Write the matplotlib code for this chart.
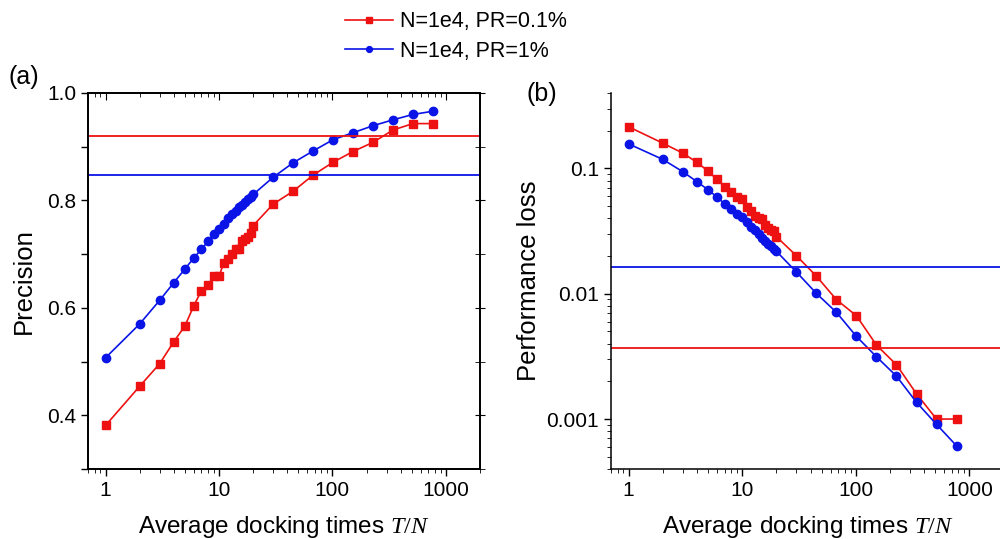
import matplotlib
matplotlib.use("Agg")
import matplotlib.pyplot as plt
from matplotlib.ticker import LogLocator, FixedLocator, FuncFormatter, NullFormatter

plt.rcParams['font.family'] = ['Liberation Sans', 'DejaVu Sans']
plt.rcParams['mathtext.fontset'] = 'custom'
plt.rcParams['mathtext.it'] = 'Liberation Serif:italic'
plt.rcParams['mathtext.rm'] = 'Liberation Serif'

# docking times T/N
x = [1, 2, 3, 4, 5, 6, 7, 8, 9, 10, 11, 12, 13, 14, 15, 16, 17, 18, 19, 20,
     30, 45, 67.5, 101.25, 151.9, 227.8, 341.7, 512.6, 768.9]

# (a) precision
prec_01 = [0.381, 0.454, 0.496, 0.537, 0.566, 0.604, 0.632, 0.642, 0.659, 0.659,
           0.683, 0.691, 0.701, 0.709, 0.710, 0.725, 0.728, 0.731, 0.740, 0.753,
           0.793, 0.817, 0.847, 0.871, 0.891, 0.908, 0.931, 0.943, 0.943]
prec_1 = [0.507, 0.570, 0.614, 0.647, 0.672, 0.693, 0.709, 0.724, 0.737, 0.747,
          0.756, 0.767, 0.774, 0.781, 0.787, 0.792, 0.797, 0.802, 0.807, 0.811,
          0.843, 0.870, 0.892, 0.913, 0.926, 0.939, 0.950, 0.960, 0.966]
prec_ref_01 = 0.920
prec_ref_1 = 0.848

# (b) performance loss
loss_01 = [0.215, 0.159, 0.1325, 0.1117, 0.0952, 0.0817, 0.0714, 0.0643, 0.0594, 0.0566,
           0.0489, 0.0454, 0.0416, 0.0400, 0.0397, 0.0351, 0.0334, 0.0322, 0.0316, 0.0285,
           0.0201, 0.0138, 0.00896, 0.00667, 0.00389, 0.00271, 0.00159, 0.00100, 0.00100]
loss_1 = [0.157, 0.118, 0.0941, 0.0783, 0.0676, 0.0591, 0.0522, 0.0473, 0.0432, 0.0407,
          0.0374, 0.0344, 0.0320, 0.0298, 0.0280, 0.0265, 0.0251, 0.0239, 0.0228, 0.0218,
          0.0149, 0.01005, 0.0071, 0.00456, 0.00314, 0.0022, 0.00136, 0.000907, 0.000612]
loss_ref_01 = 0.00366
loss_ref_1 = 0.0163

label_01 = "N=1e4, PR=0.1%"
label_1 = "N=1e4, PR=1%"
RED = '#ee1111'
BLUE = '#0a14e6'

fig = plt.figure(figsize=(10, 5.39), dpi=100)
ax1 = fig.add_axes([0.088, 0.130, 0.392, 0.6975])
ax2 = fig.add_axes([0.611, 0.130, 0.3927, 0.6975])

tick_fs = 15
lab_fs = 17.5

# panel (a)
l1, = ax1.plot(x, prec_01, '-s', color=RED, ms=5.5, lw=1.2, label=label_01)
l2, = ax1.plot(x, prec_1, '-o', color=BLUE, ms=6, lw=1.2, label=label_1)
ax1.axhline(prec_ref_01, color=RED, lw=1.3)
ax1.axhline(prec_ref_1, color=BLUE, lw=1.3)
ax1.set_xscale('log')
ax1.set_xlim(0.7, 2000)
ax1.set_ylim(0.3, 1.0)
ax1.yaxis.set_major_locator(FixedLocator([0.4, 0.6, 0.8, 1.0]))
ax1.yaxis.set_minor_locator(FixedLocator([0.3, 0.5, 0.7, 0.9]))
ax1.yaxis.set_major_formatter(FuncFormatter(lambda v, p: f"{v:.1f}"))
ax1.set_ylabel("Precision", fontsize=lab_fs + 1, labelpad=8)

# panel (b)
ax2.plot(x, loss_01, '-s', color=RED, ms=5.5, lw=1.2)
ax2.plot(x, loss_1, '-o', color=BLUE, ms=6, lw=1.2)
ax2.axhline(loss_ref_01, color=RED, lw=1.3)
ax2.axhline(loss_ref_1, color=BLUE, lw=1.3)
ax2.set_xscale('log')
ax2.set_yscale('log')
ax2.set_xlim(0.7, 2000)
ax2.set_ylim(0.0004, 0.4)
ax2.yaxis.set_major_locator(FixedLocator([0.001, 0.01, 0.1]))
ax2.yaxis.set_major_formatter(FuncFormatter(lambda v, p: f"{v:g}"))
ax2.yaxis.set_minor_locator(LogLocator(base=10, subs=range(2, 10)))
ax2.yaxis.set_minor_formatter(NullFormatter())
ax2.spines['top'].set_visible(False)
ax2.spines['right'].set_visible(False)
ax2.set_ylabel("Performance loss", fontsize=lab_fs + 1, labelpad=4)

for ax in (ax1, ax2):
    ax.xaxis.set_major_locator(FixedLocator([1, 10, 100, 1000]))
    ax.xaxis.set_major_formatter(FuncFormatter(lambda v, p: f"{v:g}"))
    ax.xaxis.set_minor_locator(LogLocator(base=10, subs=range(2, 10)))
    ax.xaxis.set_minor_formatter(NullFormatter())
    ax.set_xlabel("Average docking times $T/N$", fontsize=lab_fs, labelpad=10)
    ax.tick_params(labelsize=tick_fs, width=1.0)
    ax.tick_params(which='major', length=5)
    ax.tick_params(which='minor', length=3)
    for s in ax.spines.values():
        s.set_linewidth(1.1)

ax1.tick_params(axis='y', which='minor', length=5, width=1.0)

# top/right ticks of panel (a) point inward
ax1b = ax1.twiny()
ax1b.set_xscale('log')
ax1b.set_xlim(ax1.get_xlim())
ax1b.xaxis.set_major_locator(FixedLocator([1, 10, 100, 1000]))
ax1b.xaxis.set_minor_locator(LogLocator(base=10, subs=range(2, 10)))
ax1b.tick_params(which='both', direction='in', labeltop=False)
ax1b.tick_params(which='major', length=5)
ax1b.tick_params(which='minor', length=3)
ax1c = ax1.twinx()
ax1c.set_ylim(ax1.get_ylim())
ax1c.yaxis.set_major_locator(FixedLocator([0.4, 0.6, 0.8, 1.0]))
ax1c.yaxis.set_minor_locator(FixedLocator([0.3, 0.5, 0.7, 0.9]))
ax1c.tick_params(which='both', direction='inout', length=7, labelright=False)
for a in (ax1b, ax1c):
    for s in a.spines.values():
        s.set_linewidth(1.1)

fig.text(0.008, 0.845, "(a)", fontsize=18)
fig.text(0.527, 0.812, "(b)", fontsize=18)

fig.legend(handles=[l1, l2], loc='upper left', bbox_to_anchor=(0.326, 1.015),
           frameon=False, fontsize=15.5, handlelength=2.2, handletextpad=0.35,
           labelspacing=0.4, markerscale=0.7)

fig.savefig("out.png", dpi=100)
